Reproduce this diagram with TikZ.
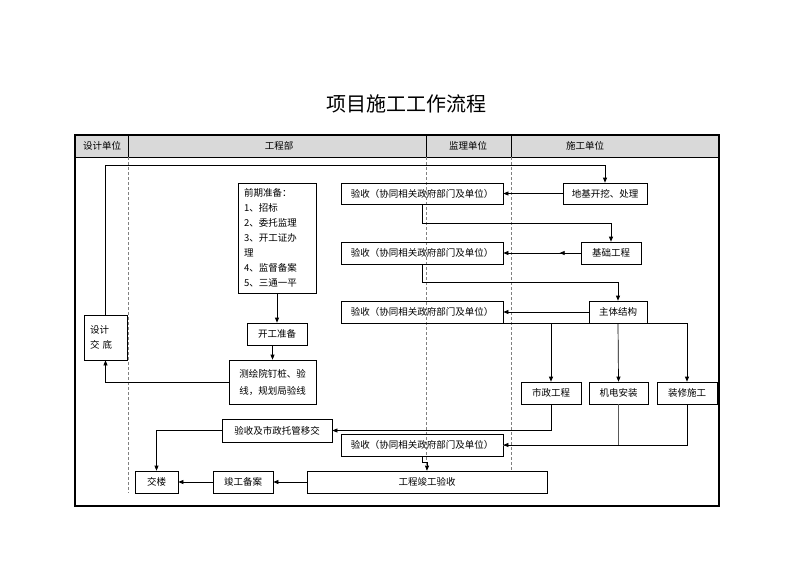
\documentclass[tikz,border=0pt]{standalone}
\usepackage{fontspec}
\setmainfont{Noto Sans CJK SC}
\usetikzlibrary{arrows.meta,calc}
\begin{document}
\begin{tikzpicture}[x=1pt,y=-1pt,
  box/.style={draw,line width=0.7pt,inner sep=0pt,font=\fontsize{9.5}{15}\selectfont,align=center},
  arr/.style={line width=0.7pt,-{Triangle[length=5pt,width=4pt]}},
  ln/.style={line width=0.7pt},
  dsh/.style={dashed,line width=0.5pt,gray,dash pattern=on 3pt off 2pt},
  hdr/.style={font=\fontsize{9.5}{12}\selectfont}]
\useasboundingbox (0,0) rectangle (800,566);
% title
\node[font=\fontsize{20}{24}\selectfont] (title) at (406,104) {项目施工工作流程};
% header
\fill[gray!30] (75,135) rectangle (719,157);
\draw[line width=0.5pt] (75,157) -- (719,157);
\foreach \x in {128,426,511} \draw[line width=0.5pt] (\x,135) -- (\x,157);
\node[hdr] (h1) at (102,146) {设计单位};
\node[hdr] (h2) at (279,146) {工程部};
\node[hdr] (h3) at (468,146) {监理单位};
\node[hdr] (h4) at (585,146) {施工单位};
% dashed lane lines
\draw[dsh] (128,157) -- (128,493);
\draw[dsh] (426,157) -- (426,471);
\draw[dsh] (511,157) -- (511,471);
% outer frame
\draw[line width=1.8pt] (75,135) rectangle (719,506);
% boxes
\node[box,minimum width=78pt,minimum height=110pt,align=left,text width=66pt] (qq) at (277,238)
  {前期准备：\\1、招标\\2、委托监理\\3、开工证办\\理\\4、监督备案\\5、三通一平};
\node[box,minimum width=60pt,minimum height=22pt] (kg) at (277,334) {开工准备};
\node[box,minimum width=87pt,minimum height=44pt,font=\fontsize{9.5}{17}\selectfont] (ch) at (272.5,382) {测绘院钉桩、验\\线，规划局验线};
\node[box,minimum width=43pt,minimum height=45pt,align=left,text width=31pt,font=\fontsize{9.5}{15}\selectfont] (sj) at (105.5,337.5) {设计\\交 底};
\node[box,minimum width=84pt,minimum height=21pt] (dj) at (605,193.5) {地基开挖、处理};
\node[box,minimum width=162pt,minimum height=21pt] (ys1) at (422,193.5) {验收（协同相关政府部门及单位）};
\node[box,minimum width=60pt,minimum height=22pt] (jc) at (611,253) {基础工程};
\node[box,minimum width=162pt,minimum height=22pt] (ys2) at (422,253) {验收（协同相关政府部门及单位）};
\node[box,minimum width=58pt,minimum height=22pt] (zt) at (618,312) {主体结构};
\node[box,minimum width=162pt,minimum height=22pt] (ys3) at (422,312) {验收（协同相关政府部门及单位）};
\node[box,minimum width=60pt,minimum height=22pt] (sz) at (551,393) {市政工程};
\node[box,minimum width=59pt,minimum height=22pt] (jd) at (618.5,393) {机电安装};
\node[box,minimum width=60pt,minimum height=22pt] (zx) at (687,393) {装修施工};
\node[box,minimum width=110pt,minimum height=23pt] (yj) at (277,430.5) {验收及市政托管移交};
\node[box,minimum width=162pt,minimum height=22pt] (ys4) at (422,445) {验收（协同相关政府部门及单位）};
\node[box,minimum width=240pt,minimum height=22pt] (jg) at (427,482) {工程竣工验收};
\node[box,minimum width=60pt,minimum height=22pt] (ba) at (243,482) {竣工备案};
\node[box,minimum width=43pt,minimum height=22pt] (jl) at (156.5,482) {交楼};
% connectors
\coordinate (top) at (0,165);
\draw[arr] (sj.north) -- (sj.north |- top) -| (dj.north);
\draw[arr] (dj.west) -- (ys1.east);
\draw[arr] (ys1.south) -- ++(0,19) -| (jc.north);
\draw[arr] (jc.west) -- (ys2.east);
\draw[arr] (jc.west) -- ++(-21,0);
\draw[arr] (ys2.south) -- ++(0,18) -| (zt.north);
\draw[arr] (zt.west) -- (ys3.east);
\coordinate (dl) at (430,323);
\draw[ln] (dl) -- (zx.north |- dl);
\draw[arr] (zt.south) -| (sz.north);
\draw[arr] (zt.south) -- (jd.north);
\draw[arr] (zt.south) -| (zx.north);
\draw[arr] (sz.south) |- (yj.east);
\draw[arr] (yj.west) -| (jl.north);
\draw[ln,gray!70!black] (jd.south) |- (ys4.east);
\draw[arr] (zx.south) |- (ys4.east);
\draw[arr] (ys4.south) -- ++(0,6) -| (jg.north);
\draw[arr] (jg.west) -- (ba.east);
\draw[arr] (ba.west) -- (jl.east);
\draw[arr] (ch.west) -| (sj.south);
\draw[arr] (qq.south) -- (kg.north);
\draw[arr] (kg.south -| ch.north) -- (ch.north);
\end{tikzpicture}
\end{document}
